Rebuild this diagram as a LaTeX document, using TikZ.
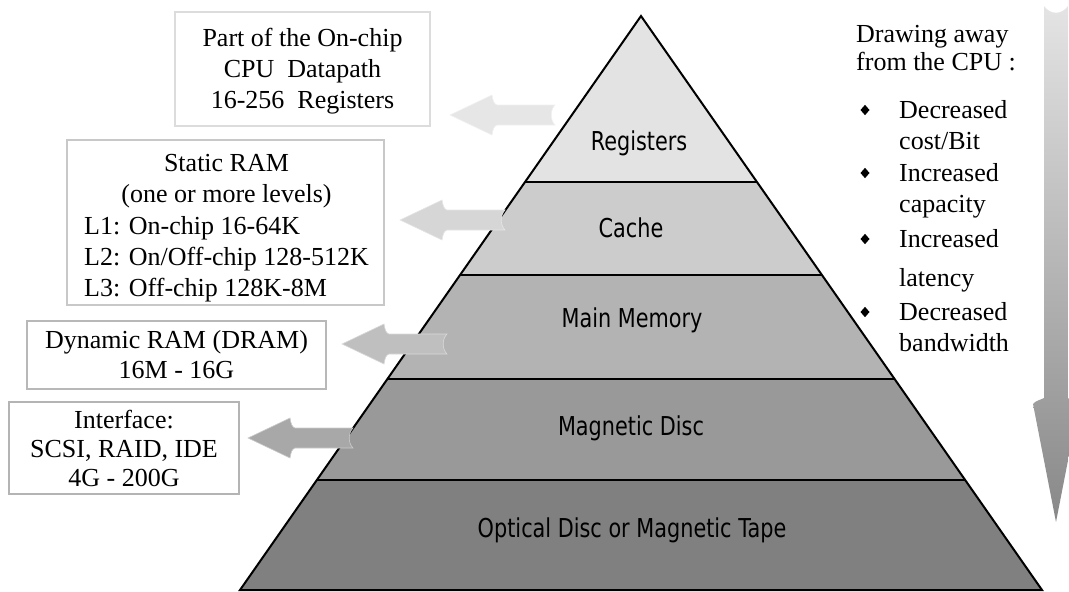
\documentclass[tikz,border=0pt]{standalone}
\usepackage{fontspec}
\setmainfont{Liberation Serif}
\newfontfamily\labelfont{DejaVu Sans}
\usetikzlibrary{calc}

% greys of the pyramid levels, top to bottom
\definecolor{levelA}{HTML}{E3E3E3}
\definecolor{levelB}{HTML}{CCCCCC}
\definecolor{levelC}{HTML}{B3B3B3}
\definecolor{levelD}{HTML}{999999}
\definecolor{levelE}{HTML}{808080}
% block arrows pointing to the description boxes
\definecolor{arrowA}{HTML}{E6E6E6}
\definecolor{arrowB}{HTML}{D6D6D6}
\definecolor{arrowC}{HTML}{BFBFBF}
\definecolor{arrowD}{HTML}{A8A8A8}
% frames of the description boxes
\definecolor{frameA}{HTML}{DCDCDC}
\definecolor{frameB}{HTML}{C8C8C8}
\definecolor{frameC}{HTML}{B8B8B8}
\definecolor{frameD}{HTML}{B4B4B4}
% vertical trend arrow
\definecolor{trendtop}{HTML}{E4E4E4}
\definecolor{trendbottom}{HTML}{888888}

\begin{document}
\begin{tikzpicture}[x=1pt,y=-1pt,
  levelline/.style={draw=black, line width=2pt},
  infobox/.style={draw, line width=1.6pt, fill=white, inner sep=0pt,
    font=\fontsize{26}{31.5}\selectfont, align=center},
  boxtext/.style={inner sep=0pt, font=\fontsize{26}{31.3}\selectfont},
  pyrlabel/.style={font=\labelfont\fontsize{26}{30}\selectfont,
    xscale=0.8, inner sep=0pt},
  % anchored at the baseline of the last line of each entry
  sidetext/.style={font=\fontsize{26}{31}\selectfont, anchor=base west,
    align=left, inner sep=0pt},
  leftblock/.pic={
    \path[pic actions] (0,0) -- (42,-20)
      .. controls (43,-14) and (44,-11) .. (47,-10) -- (105,-10)
      .. controls (100,-5) and (100,5) .. (105,10) -- (47,10)
      .. controls (44,11) and (43,14) .. (42,20) -- cycle;
  },
]
\useasboundingbox (0,0) rectangle (1069,592);
\clip (0,0) rectangle (1069,592);

% ---- pyramid ----
\coordinate (apex) at (641,16);
\coordinate (bl) at (240,590);
\coordinate (br) at (1042,590);
\foreach \n/\t in {1/0.2892, 2/0.4512, 3/0.6324, 4/0.8084} {
  \coordinate (l\n) at ($(apex)!\t!(bl)$);
  \coordinate (r\n) at ($(apex)!\t!(br)$);
}
\fill[levelA] (apex) -- (l1) -- (r1) -- cycle;
\fill[levelB] (l1) -- (l2) -- (r2) -- (r1) -- cycle;
\fill[levelC] (l2) -- (l3) -- (r3) -- (r2) -- cycle;
\fill[levelD] (l3) -- (l4) -- (r4) -- (r3) -- cycle;
\fill[levelE] (l4) -- (bl) -- (br) -- (r4) -- cycle;
\foreach \n in {1,...,4} { \draw[levelline] (l\n) -- (r\n); }
\draw[levelline, line join=miter] (apex) -- (bl) -- (br) -- cycle;

\node[pyrlabel] (regs)    at (639,143) {Registers};
\node[pyrlabel] (cache)   at (631,228) {Cache};
\node[pyrlabel] (mainmem) at (632,320) {Main Memory};
\node[pyrlabel] (magdisc) at (631,428) {Magnetic Disc};
\node[pyrlabel] (optical) at (632,530) {Optical Disc or Magnetic Tape};

% ---- description boxes ----
\node[infobox, draw=frameA, minimum width=255pt, minimum height=114pt]
  (regbox) at (302.5,69) {};
\node[boxtext, align=center] (regtext) at ($(regbox.center)+(0,2)$)
  {Part of the On-chip\\CPU\ \ Datapath\\16-256\ \ Registers};
\node[infobox, draw=frameB, minimum width=317pt, minimum height=165pt]
  (srambox) at (225.5,222.5) {};
\node[boxtext] (sramtext) at ($(srambox.center)+(1,5.5)$)
  {\begin{tabular}{@{}l@{}}
    \multicolumn{1}{@{}c@{}}{Static RAM}\\
    \multicolumn{1}{@{}c@{}}{(one or more levels)}\\
    L1: On-chip 16-64K\\
    L2: On/Off-chip 128-512K\\
    L3: Off-chip 128K-8M\end{tabular}};
\node[infobox, draw=frameC, minimum width=299pt, minimum height=68pt,
  font=\fontsize{26}{30}\selectfont]
  (drambox) at (176.5,355) {Dynamic RAM (DRAM)\\16M - 16G};
\node[infobox, draw=frameD, minimum width=230pt, minimum height=92pt,
  font=\fontsize{26}{29}\selectfont]
  (discbox) at (124,448) {Interface:\\SCSI, RAID, IDE\\4G - 200G};

% ---- block arrows from the levels to the boxes ----
\coordinate (tipA) at (450,115);
\coordinate (tipB) at (400,220);
\coordinate (tipC) at (342,344);
\coordinate (tipD) at (248,438);
\pic[fill=arrowA, draw=white!40!arrowA, line width=0.6pt] at (tipA) {leftblock};
\pic[fill=arrowB, draw=white!40!arrowB, line width=0.6pt] at (tipB) {leftblock};
\pic[fill=arrowC, draw=white!40!arrowC, line width=0.6pt] at (tipC) {leftblock};
\pic[fill=arrowD, draw=white!40!arrowD, line width=0.6pt] at (tipD) {leftblock};

% ---- trend arrow on the right ----
\shade[top color=trendtop, bottom color=trendbottom]
  (1044,6) .. controls (1050,15) and (1062,15) .. (1068,6) -- (1068,398)
  .. controls (1072,400) and (1077,401) .. (1079,404) -- (1056,522)
  -- (1033,404) .. controls (1035,401) and (1040,400) .. (1044,398) -- cycle;

% ---- trend list ----
\node[sidetext, font=\fontsize{26}{28}\selectfont] (away) at (856,70) {Drawing away\\from the CPU :};
\node[sidetext] (itemA) at (899,149) {Decreased\\cost/Bit};
\node[sidetext] (itemB) at (899,212) {Increased\\capacity};
\node[sidetext] (itemC) at (899,286) {Increased\\[8pt]latency};
\node[sidetext] (itemD) at (899,351) {Decreased\\bandwidth};
\foreach \y in {110,173,239,312} {
  \fill (865,\y) +(0,-5.2) -- +(4.5,0) -- +(0,5.2) -- +(-4.5,0) -- cycle;
}
\end{tikzpicture}
\end{document}
